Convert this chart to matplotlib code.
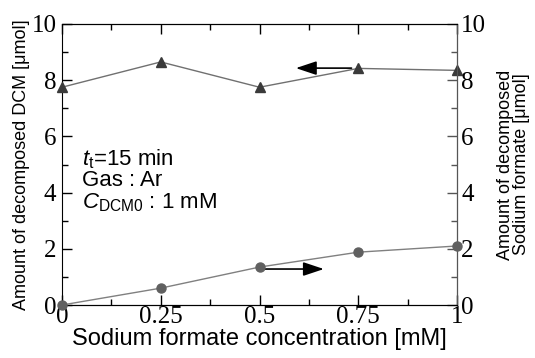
import numpy as np
import matplotlib
matplotlib.use('Agg')
import matplotlib.pyplot as plt
from matplotlib.ticker import MultipleLocator

plt.rcParams['mathtext.fontset'] = 'custom'
plt.rcParams['mathtext.rm'] = 'Liberation Sans'
plt.rcParams['mathtext.it'] = 'Liberation Sans:italic'

conc = [0, 0.25, 0.5, 0.75, 1.0]
dcm = [7.75, 8.65, 7.75, 8.42, 8.35]
formate = [0.0, 0.6, 1.35, 1.88, 2.1]
xtick_labels = ['0', '0.25', '0.5', '0.75', '1']

serif = 'Liberation Serif'
sans = 'Liberation Sans'

fig = plt.figure(figsize=(5.35, 3.58), dpi=100)
ax = fig.add_axes([62/535, 53/358, 395/535, 281/358])
ax2 = ax.twinx()

ax.plot(conc, dcm, color='#707070', lw=1, marker='^', ms=7,
        mfc='#3a3a3a', mec='#3a3a3a', clip_on=False, zorder=5)
ax2.plot(conc, formate, color='#808080', lw=1, marker='o', ms=6.5,
         mfc='#606060', mec='#606060', clip_on=False, zorder=5)

ax.set_xlim(0, 1)
ax.set_ylim(0, 10)
ax2.set_ylim(0, 10)
ax.set_xticks(conc)
ax.set_xticklabels(xtick_labels)
ax.xaxis.set_minor_locator(MultipleLocator(0.125))
for a in (ax, ax2):
    a.yaxis.set_major_locator(MultipleLocator(2))
    a.yaxis.set_minor_locator(MultipleLocator(1))

ax.tick_params(which='both', direction='in', top=True, right=False,
               labelsize=18, pad=1)
ax.tick_params(which='major', length=7, width=1)
ax.tick_params(which='minor', length=4, width=1)
ax.tick_params(axis='y', pad=4)
ax2.tick_params(which='both', direction='in', labelsize=18, pad=3,
                color='#555555')
ax2.tick_params(which='major', length=7, width=1)
ax2.tick_params(which='minor', length=4, width=1)
for lab in ax.get_xticklabels() + ax.get_yticklabels() + ax2.get_yticklabels():
    lab.set_family(serif)
ax2.spines['right'].set_color('#555555')
ax2.spines['left'].set_visible(False)

ax.set_xlabel('Sodium formate concentration [mM]', fontsize=17,
              family=sans, labelpad=0)
ax.set_ylabel('Amount of decomposed DCM [\u03bcmol]', fontsize=13,
              family=sans, labelpad=1)
ax2.set_ylabel('Amount of decomposed\nSodium formate [\u03bcmol]',
               fontsize=13, family=sans, rotation=90, labelpad=8,
               linespacing=0.9)

ax.text(0.05, 4.98, '$\\mathit{t}_\\mathrm{t}$=15 min', fontsize=16, family=sans)
ax.text(0.05, 4.25, 'Gas : Ar', fontsize=16, family=sans)
ax.text(0.05, 3.45, '$\\mathit{C}_\\mathrm{DCM0}$ : 1 mM', fontsize=16, family=sans)

ax.annotate('', xy=(0.585, 8.43), xytext=(0.74, 8.43),
            arrowprops=dict(arrowstyle='-|>,head_length=0.9,head_width=0.3',
                            color='black', lw=1.2, mutation_scale=14))
ax2.annotate('', xy=(0.67, 1.28), xytext=(0.505, 1.28),
             arrowprops=dict(arrowstyle='-|>,head_length=0.9,head_width=0.3',
                             color='black', lw=1.2, mutation_scale=14))

plt.savefig('out.png', dpi=100)
